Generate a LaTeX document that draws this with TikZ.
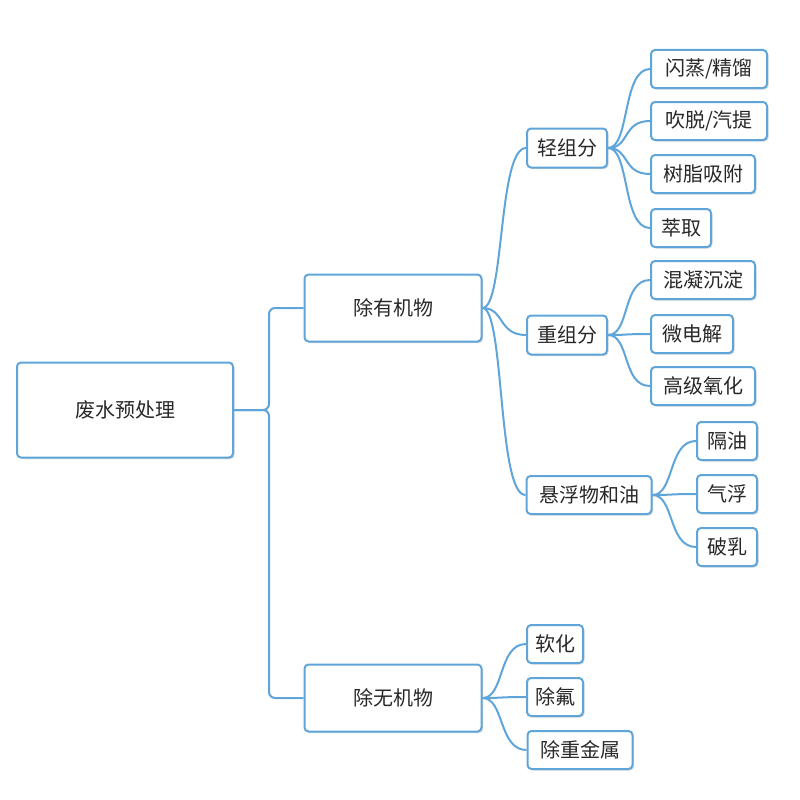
\documentclass[tikz,border=0pt]{standalone}
\usepackage{fontspec}
\setmainfont{Noto Sans CJK SC}
\usetikzlibrary{calc,shadows}
\definecolor{ln}{RGB}{95,165,218}
\definecolor{tx}{RGB}{40,40,40}
\tikzset{
 bx/.style={draw=ln,line width=2pt,rounded corners=4pt,fill=white,text=tx,font=\fontsize{20}{20}\selectfont,inner sep=0pt,drop shadow={shadow xshift=1.5pt,shadow yshift=-1.5pt,fill=black!25,opacity=.6}},
 cn/.style={draw=ln,line width=2pt},
}
\newcommand{\bxn}[6]{\node[bx,minimum width=#4pt,minimum height=#5pt] (#1) at (#2,#3) {#6};}
\newcommand{\crv}[2]{\draw[cn] (#1.east) .. controls ($(#1.east)+(22,0)$) and ($(#2.west)+(-28,0)$) .. (#2.west);}
\begin{document}
\begin{tikzpicture}[x=1pt,y=-1pt]
\useasboundingbox (0,0) rectangle (800,800);
\bxn{r}{125}{410}{216}{95}{废水预处理}
\bxn{o}{393}{308}{177}{67}{除有机物}
\bxn{i}{393}{698}{177}{67}{除无机物}
\bxn{l}{567}{148}{80}{39}{轻组分}
\bxn{h}{567}{335}{80}{39}{重组分}
\bxn{s}{589}{495}{125}{38}{悬浮物和油}
\bxn{a1}{709}{69}{116}{38}{闪蒸/精馏}
\bxn{a2}{709}{121}{116}{38}{吹脱/汽提}
\bxn{a3}{703}{174}{104}{38}{树脂吸附}
\bxn{a4}{681}{228}{60}{38}{萃取}
\bxn{b1}{703}{280}{104}{38}{混凝沉淀}
\bxn{b2}{692}{334}{82}{38}{微电解}
\bxn{b3}{703}{386}{104}{38}{高级氧化}
\bxn{c1}{727}{441}{60}{38}{隔油}
\bxn{c2}{727}{494}{60}{38}{气浮}
\bxn{c3}{727}{547}{60}{38}{破乳}
\bxn{d1}{555}{644}{56}{38}{软化}
\bxn{d2}{555}{697}{56}{38}{除氟}
\bxn{d3}{580}{750}{105}{38}{除重金属}
\begin{scope}[on background layer/.style={}]
\end{scope}
\draw[cn,rounded corners=6pt] (r.east) -- ++(35,0) |- (o.west);
\draw[cn,rounded corners=6pt] (r.east) -- ++(35,0) |- (i.west);
\crv{o}{l}\crv{o}{h}\crv{o}{s}
\crv{i}{d1}\crv{i}{d2}\crv{i}{d3}
\crv{l}{a1}\crv{l}{a2}\crv{l}{a3}\crv{l}{a4}
\crv{h}{b1}\crv{h}{b2}\crv{h}{b3}
\crv{s}{c1}\crv{s}{c2}\crv{s}{c3}
\end{tikzpicture}
\end{document}
